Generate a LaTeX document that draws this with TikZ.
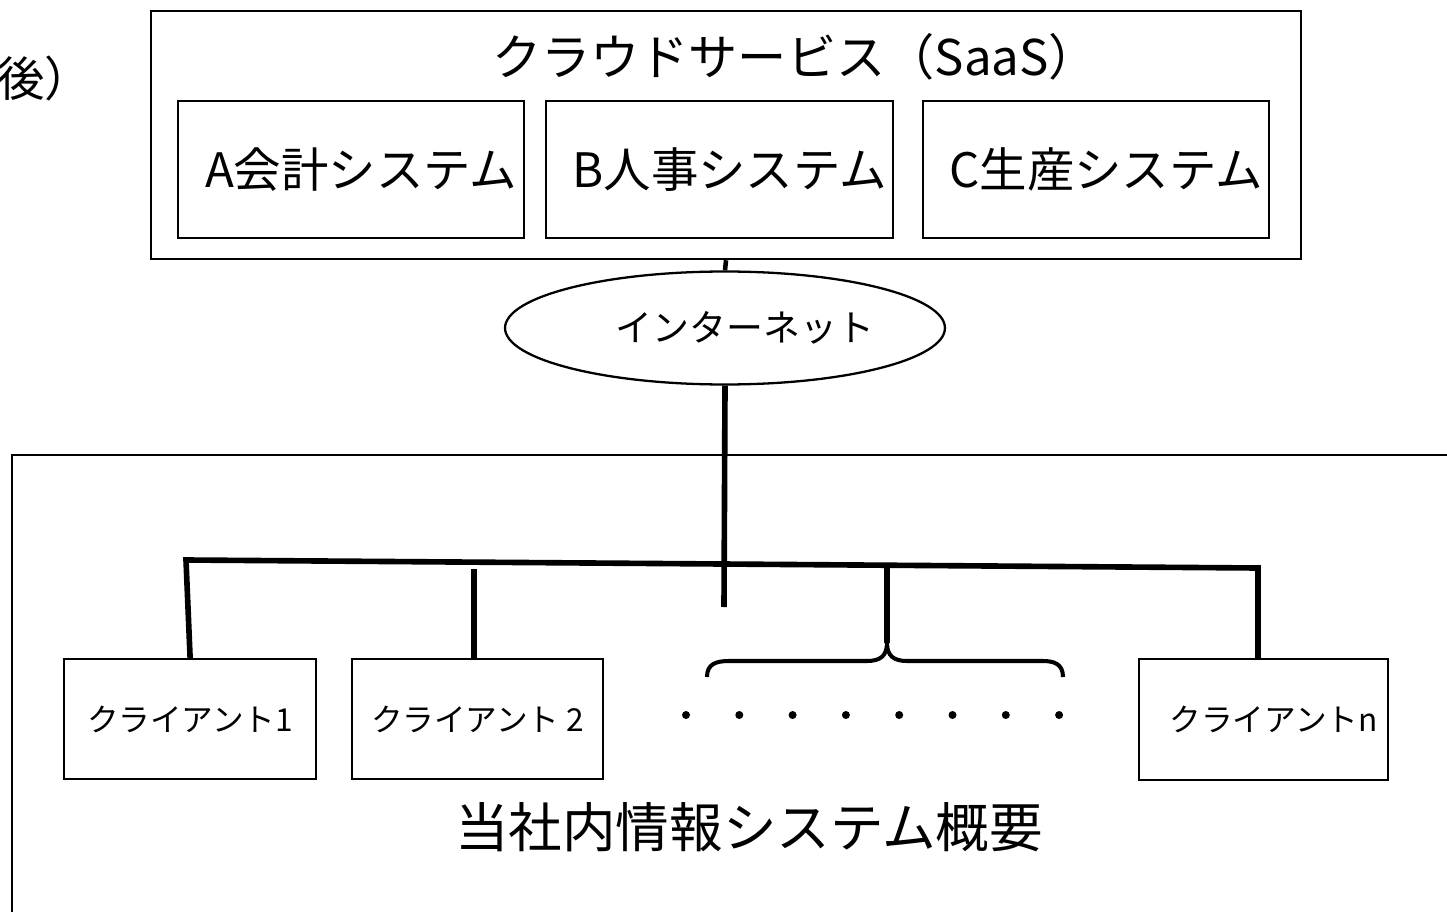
\documentclass[tikz,border=0pt]{standalone}
\usepackage{fontspec}
\setmainfont{Noto Sans CJK JP}
\usetikzlibrary{shapes.geometric}
\begin{document}
\begin{tikzpicture}[x=0.02cm,y=-0.02cm,
  box/.style={draw, line width=1.3pt, rectangle, inner sep=0pt, anchor=north west},
  bigtext/.style={font=\fontsize{27pt}{31pt}\selectfont, inner sep=0pt},
  clienttext/.style={font=\fontsize{18pt}{21pt}\selectfont},
  thickline/.style={line width=3.2pt},
  thinline/.style={line width=1.3pt},
]
\useasboundingbox (0,0) rectangle (1447,912);
\fill[white] (0,0) rectangle (1447,912);

% cut-off heading at the left
\node[bigtext, anchor=west] (head) at (-3,78) {後）};

% cloud service
\node[box, minimum width=23cm, minimum height=4.96cm] (cloud) at (150,10) {};
\node[font=\fontsize{28pt}{32pt}\selectfont, inner sep=0pt] (cloudtitle) at (795,57) {クラウドサービス（SaaS）};
\node[box, bigtext, minimum width=6.92cm, minimum height=2.74cm] (sysA) at (177,100) {\hspace*{0.4cm}A会計システム};
\node[box, bigtext, minimum width=6.94cm, minimum height=2.74cm] (sysB) at (545,100) {\hspace*{0.4cm}B人事システム};
\node[box, bigtext, minimum width=6.92cm, minimum height=2.74cm] (sysC) at (922,100) {\hspace*{0.4cm}C生産システム};

% internet
\node[draw, thinline, ellipse, inner sep=0pt, minimum width=8.8cm, minimum height=2.26cm,
      font=\fontsize{21pt}{25pt}\selectfont] (inet) at (725,328) {\hspace*{0.8cm}インターネット};
\draw[line width=2.6pt] (cloud.south) -- (inet.north);

% company box (open to right and bottom)
\draw[thinline] (1452,455) -- (12,455) -- (12,916);

% clients
\node[box, clienttext, minimum width=5.04cm, minimum height=2.4cm] (c1) at (63,658) {クライアント1};
\node[box, clienttext, minimum width=5.02cm, minimum height=2.4cm] (c2) at (351,658) {クライアント 2};
\node[box, clienttext, minimum width=4.98cm, minimum height=2.42cm] (cn) at (1138,658) {\hspace*{0.4cm}クライアントn};

% bus
\coordinate (busL) at (186,560);
\coordinate (busR) at (1258,568);
\coordinate (drop) at (724,607);
\coordinate (stub) at (474,569);
\coordinate (stem) at (887,566);
\coordinate (tip) at (887,643);
\draw[thickline] (inet.south) -- (drop);
\draw[thickline] (c1.north) -- (busL) -- (busR) -- (busR |- cn.north);
\draw[thickline] (stub) -- (stub |- c2.north);
\draw[thickline] (stem) -- (tip);

% brace
\draw[line width=2.3pt] (707,677) .. controls (707,664) and (716,661) .. (729,661) -- (867,661)
   .. controls (880,661) and (887,656) .. (tip) .. controls (887,656) and (894,661) .. (907,661)
   -- (1043,661) .. controls (1054,661) and (1063,664) .. (1063,677);

% dots
\foreach \i in {0,...,7} {
  \fill (686+53.3*\i,715) circle[radius=4];
}

% caption
\node[font=\fontsize{30.5pt}{34pt}\selectfont, inner sep=0pt] (caption) at (749,827) {当社内情報システム概要};
\end{tikzpicture}
\end{document}
